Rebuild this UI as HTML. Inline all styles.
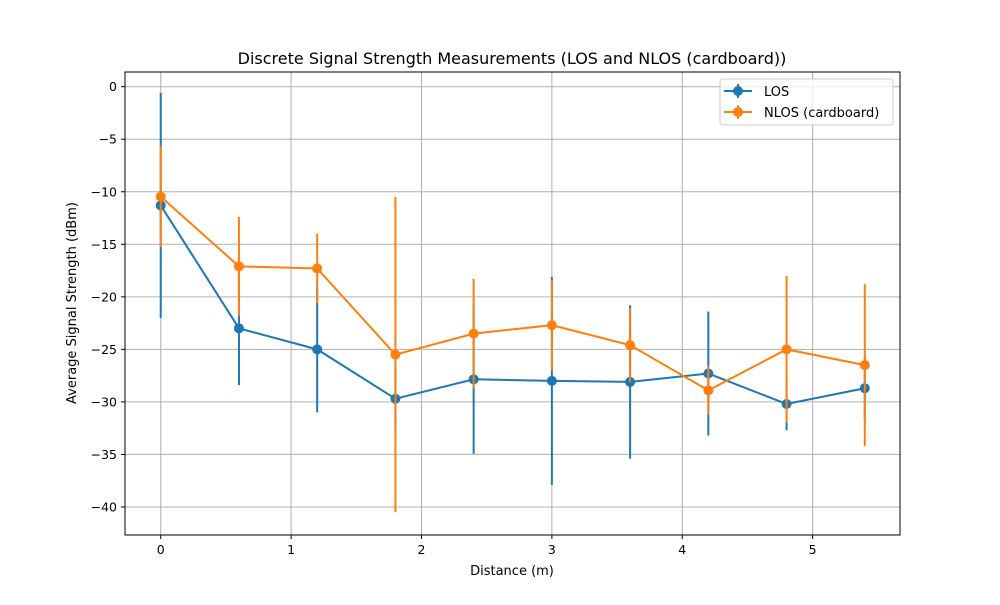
<!DOCTYPE html>
<html><head><meta charset="utf-8"><style>
body{margin:0;background:#fff;}
svg{font-family:"DejaVu Sans","Liberation Sans",sans-serif;}
</style></head><body>
<svg id="chart" width="1000" height="600" xmlns="http://www.w3.org/2000/svg">
<rect width="1000" height="600" fill="#fff"/>
<g id="grid"></g>
<g id="series"></g>
<rect x="125" y="72" width="775" height="463" fill="none" stroke="#000" stroke-width="1"/>
<g id="ticks" font-size="12.5"></g>
<text x="512" y="64" text-anchor="middle" font-size="16">Discrete Signal Strength Measurements (LOS and NLOS (cardboard))</text>
<text x="512" y="575" text-anchor="middle" font-size="13">Distance (m)</text>
<text transform="translate(76,303) rotate(-90)" text-anchor="middle" font-size="13">Average Signal Strength (dBm)</text>
<g>
<rect x="720" y="79" width="173" height="46" rx="3" fill="#fff" fill-opacity="0.8" stroke="#ccc"/>
<g>
<line x1="724" y1="91" x2="752" y2="91" stroke="#1f77b4" stroke-width="2"/><line x1="738" y1="84" x2="738" y2="98" stroke="#1f77b4" stroke-width="2"/><circle cx="738" cy="91" r="5" fill="#1f77b4"/>
<text x="764" y="96" font-size="13">LOS</text></g>
<g>
<line x1="724" y1="112" x2="752" y2="112" stroke="#ff7f0e" stroke-width="2"/><line x1="738" y1="105" x2="738" y2="119" stroke="#ff7f0e" stroke-width="2"/><circle cx="738" cy="112" r="5" fill="#ff7f0e"/>
<text x="764" y="117" font-size="13">NLOS (cardboard)</text></g>
</g>
</svg>
<script>
const distances=[0,0.6,1.2,1.8,2.4,3.0,3.6,4.2,4.8,5.4];
const losValues=[-11.3,-23.0,-25.0,-29.7,-27.85,-28.0,-28.1,-27.3,-30.2,-28.7];
const losErrors=[10.7,5.4,6.0,3,7.1,9.9,7.3,5.9,2.5,3];
const nlosValues=[-10.46,-17.1,-17.3,-25.5,-23.5,-22.7,-24.6,-28.9,-25.0,-26.5];
const nlosErrors=[4.8,4.7,3.3,15,5.2,4.3,3.5,2.3,7.0,7.7];
const xTicks=[0,1,2,3,4,5];
const yTicks=[0,-5,-10,-15,-20,-25,-30,-35,-40];
const NS="http://www.w3.org/2000/svg";
const X0=125,X1=900,Y0=72,Y1=535,xmin=-0.274,xmax=5.67,ymin=-42.67,ymax=1.4;
const sx=v=>X0+(v-xmin)/(xmax-xmin)*(X1-X0);
const sy=v=>Y1-(v-ymin)/(ymax-ymin)*(Y1-Y0);
function mk(tag,attrs,parent){const e=document.createElementNS(NS,tag);for(const k in attrs)e.setAttribute(k,attrs[k]);parent.appendChild(e);return e;}
const grid=document.getElementById('grid'),ticks=document.getElementById('ticks'),ser=document.getElementById('series');
xTicks.forEach(t=>{const x=sx(t);
const g=mk('line',{x1:x,x2:x,y1:Y0,y2:Y1,stroke:'#b0b0b0','stroke-width':1},grid);


mk('line',{x1:x,x2:x,y1:Y1,y2:Y1+4,stroke:'#000'},ticks);
const tx=mk('text',{x:x,y:Y1+19,'text-anchor':'middle'},ticks);tx.textContent=t;

});
yTicks.forEach(t=>{const y=sy(t);
const g=mk('line',{x1:X0,x2:X1,y1:y,y2:y,stroke:'#b0b0b0','stroke-width':1},grid);


mk('line',{x1:X0-4,x2:X0,y1:y,y2:y,stroke:'#000'},ticks);
const tx=mk('text',{x:X0-8,y:y+4.5,'text-anchor':'end'},ticks);tx.textContent=t===0?'0':'\u2212'+Math.abs(t);

});
function series(vals,errs,color,name){
const g=mk('g',{},ser);


vals.forEach((v,i)=>{const e=mk('line',{x1:sx(distances[i]),x2:sx(distances[i]),y1:sy(v+errs[i]),y2:sy(v-errs[i]),stroke:color,'stroke-width':2},g);

});
const p=mk('polyline',{points:vals.map((v,i)=>sx(distances[i])+','+sy(v)).join(' '),fill:'none',stroke:color,'stroke-width':2},g);


vals.forEach((v,i)=>{const c=mk('circle',{cx:sx(distances[i]),cy:sy(v),r:5,fill:color},g);

});}
series(losValues,losErrors,'#1f77b4','los');
series(nlosValues,nlosErrors,'#ff7f0e','nlos');
</script>
</body></html>
